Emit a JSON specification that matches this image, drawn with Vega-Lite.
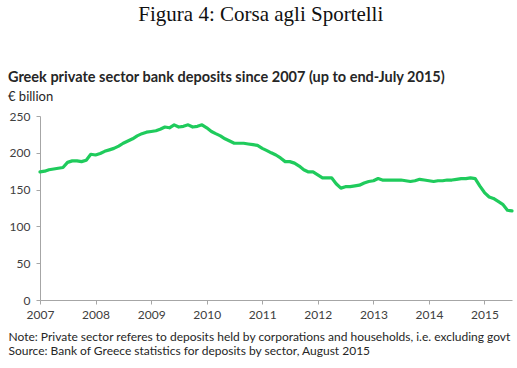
{
  "$schema": "https://vega.github.io/schema/vega-lite/v6.json",
  "background": "white",
  "padding": {"left": 8, "top": 3, "right": 4, "bottom": 4},
  "config": {"view": {"stroke": null}, "concat": {"spacing": 0}},
  "title": {"text": "Figura 4: Corsa agli Sportelli", "font": "Liberation Serif", "fontSize": 21, "fontWeight": "normal", "anchor": "middle", "color": "#111111", "offset": 45},
  "vconcat": [
    {
      "width": 472,
      "height": 184,
      "title": {"text": "Greek private sector bank deposits since 2007 (up to end-July 2015)", "subtitle": "€ billion", "anchor": "start", "frame": "bounds", "font": "Lato", "fontSize": 14.5, "fontWeight": "bold", "color": "#262626", "subtitleFont": "Lato", "subtitleFontSize": 13, "subtitleColor": "#262626", "subtitlePadding": 6, "offset": 5},
      "data": {"values": [
        {"date": "2007-01-01", "v": 174}, {"date": "2007-02-01", "v": 175}, {"date": "2007-03-01", "v": 177}, {"date": "2007-04-01", "v": 178},
        {"date": "2007-05-01", "v": 179}, {"date": "2007-06-01", "v": 180}, {"date": "2007-07-01", "v": 187}, {"date": "2007-08-01", "v": 189},
        {"date": "2007-09-01", "v": 189}, {"date": "2007-10-01", "v": 188}, {"date": "2007-11-01", "v": 190}, {"date": "2007-12-01", "v": 198},
        {"date": "2008-01-01", "v": 197}, {"date": "2008-02-01", "v": 199}, {"date": "2008-03-01", "v": 202}, {"date": "2008-04-01", "v": 204},
        {"date": "2008-05-01", "v": 206}, {"date": "2008-06-01", "v": 209}, {"date": "2008-07-01", "v": 213}, {"date": "2008-08-01", "v": 216},
        {"date": "2008-09-01", "v": 219}, {"date": "2008-10-01", "v": 223}, {"date": "2008-11-01", "v": 226}, {"date": "2008-12-01", "v": 228},
        {"date": "2009-01-01", "v": 229}, {"date": "2009-02-01", "v": 230}, {"date": "2009-03-01", "v": 232}, {"date": "2009-04-01", "v": 235},
        {"date": "2009-05-01", "v": 234}, {"date": "2009-06-01", "v": 238}, {"date": "2009-07-01", "v": 235}, {"date": "2009-08-01", "v": 236},
        {"date": "2009-09-01", "v": 238}, {"date": "2009-10-01", "v": 235}, {"date": "2009-11-01", "v": 236}, {"date": "2009-12-01", "v": 238},
        {"date": "2010-01-01", "v": 234}, {"date": "2010-02-01", "v": 229}, {"date": "2010-03-01", "v": 226}, {"date": "2010-04-01", "v": 223},
        {"date": "2010-05-01", "v": 219}, {"date": "2010-06-01", "v": 216}, {"date": "2010-07-01", "v": 213}, {"date": "2010-08-01", "v": 213},
        {"date": "2010-09-01", "v": 213}, {"date": "2010-10-01", "v": 212}, {"date": "2010-11-01", "v": 211}, {"date": "2010-12-01", "v": 210},
        {"date": "2011-01-01", "v": 206}, {"date": "2011-02-01", "v": 203}, {"date": "2011-03-01", "v": 200}, {"date": "2011-04-01", "v": 197},
        {"date": "2011-05-01", "v": 193}, {"date": "2011-06-01", "v": 188}, {"date": "2011-07-01", "v": 188}, {"date": "2011-08-01", "v": 186},
        {"date": "2011-09-01", "v": 182}, {"date": "2011-10-01", "v": 177}, {"date": "2011-11-01", "v": 174}, {"date": "2011-12-01", "v": 174},
        {"date": "2012-01-01", "v": 170}, {"date": "2012-02-01", "v": 166}, {"date": "2012-03-01", "v": 166}, {"date": "2012-04-01", "v": 166},
        {"date": "2012-05-01", "v": 158}, {"date": "2012-06-01", "v": 152}, {"date": "2012-07-01", "v": 154}, {"date": "2012-08-01", "v": 154},
        {"date": "2012-09-01", "v": 155}, {"date": "2012-10-01", "v": 156}, {"date": "2012-11-01", "v": 159}, {"date": "2012-12-01", "v": 161},
        {"date": "2013-01-01", "v": 162}, {"date": "2013-02-01", "v": 165}, {"date": "2013-03-01", "v": 163}, {"date": "2013-04-01", "v": 163},
        {"date": "2013-05-01", "v": 163}, {"date": "2013-06-01", "v": 163}, {"date": "2013-07-01", "v": 163}, {"date": "2013-08-01", "v": 162},
        {"date": "2013-09-01", "v": 161}, {"date": "2013-10-01", "v": 162}, {"date": "2013-11-01", "v": 164}, {"date": "2013-12-01", "v": 163},
        {"date": "2014-01-01", "v": 162}, {"date": "2014-02-01", "v": 161}, {"date": "2014-03-01", "v": 162}, {"date": "2014-04-01", "v": 162},
        {"date": "2014-05-01", "v": 163}, {"date": "2014-06-01", "v": 163}, {"date": "2014-07-01", "v": 164}, {"date": "2014-08-01", "v": 165},
        {"date": "2014-09-01", "v": 165}, {"date": "2014-10-01", "v": 166}, {"date": "2014-11-01", "v": 165}, {"date": "2014-12-01", "v": 155},
        {"date": "2015-01-01", "v": 146}, {"date": "2015-02-01", "v": 140}, {"date": "2015-03-01", "v": 138}, {"date": "2015-04-01", "v": 134},
        {"date": "2015-05-01", "v": 130}, {"date": "2015-06-01", "v": 122}, {"date": "2015-07-01", "v": 121}
      ]},
      "mark": {"type": "line", "color": "#1fcb5c", "strokeWidth": 3.2, "strokeJoin": "round", "strokeCap": "round"},
      "encoding": {
        "x": {
          "field": "date", "type": "temporal",
          "scale": {"domain": ["2007-01-01", "2015-07-01"]},
          "axis": {
            "values": ["2007-01-01", "2008-01-01", "2009-01-01", "2010-01-01", "2011-01-01", "2012-01-01", "2013-01-01", "2014-01-01", "2015-01-01"],
            "format": "%Y", "grid": false, "domainColor": "#a6a6a6", "tickColor": "#a6a6a6", "tickSize": 4,
            "labelFont": "Lato", "labelFontSize": 12, "labelColor": "#404040", "labelPadding": 5, "labelFlush": false,
            "title": ["Note: Private sector referes to deposits held by corporations and households, i.e. excluding govt", "Source: Bank of Greece statistics for deposits by sector, August 2015"],
            "titleFont": "Lato", "titleFontSize": 12, "titleFontWeight": "normal", "titleColor": "#262626",
            "titleAnchor": "start", "titleAlign": "left", "titleBaseline": "alphabetic", "titleX": -32, "titleY": 40, "titleLineHeight": 14.5
          }
        },
        "y": {
          "field": "v", "type": "quantitative",
          "scale": {"domain": [0, 250]},
          "axis": {
            "values": [0, 50, 100, 150, 200, 250], "grid": false, "domainColor": "#a6a6a6", "tickColor": "#a6a6a6", "tickSize": 4,
            "labelFont": "Lato", "labelFontSize": 12, "labelColor": "#404040", "labelPadding": 6, "title": null
          }
        }
      }
    }
  ]
}
